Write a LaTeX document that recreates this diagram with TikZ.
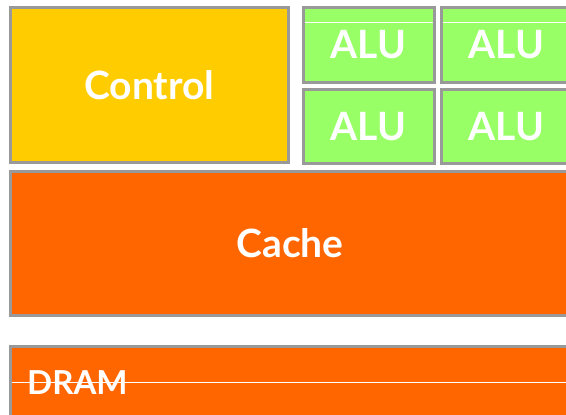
\documentclass[tikz,border=0pt]{standalone}
\usepackage{fontspec}
\newfontfamily\blockfont{Lato}
\usetikzlibrary{positioning}

\definecolor{ctrlyellow}{HTML}{FFCC00}
\definecolor{alugreen}{HTML}{99FF66}
\definecolor{memorange}{HTML}{FF6600}
\definecolor{edgegray}{HTML}{999999}

\begin{document}
\begin{tikzpicture}[x=1pt,y=-1pt]
\tikzstyle{block}=[rectangle,draw=edgegray,line width=3pt,inner sep=0pt,text=white,font=\blockfont\bfseries\fontsize{39}{41}\selectfont]
\tikzstyle{alu}=[block,fill=alugreen,minimum width=131pt,minimum height=75pt]
\tikzstyle{gap}=[white,line width=1pt]
\useasboundingbox (0,0) rectangle (566,415);
\clip (0,0) rectangle (566,415);
\node[block,fill=ctrlyellow,minimum width=278.5pt,minimum height=154.5pt] (control) at (149.25,84.75) {Control};
\node[alu] (alu1) at (368.5,45) {ALU};
\node[alu] (alu2) at (506.5,45) {ALU};
\node[alu,minimum height=73.5pt] (alu3) at (368.5,126.25) {ALU};
\node[alu,minimum height=73.5pt] (alu4) at (506.5,126.25) {ALU};
\node[block,fill=memorange,minimum width=560pt,minimum height=144pt] (cache) at (290,243.5) {Cache};
\node[block,fill=memorange,minimum width=560pt,minimum height=83.5pt] (dram) at (290,388.25) {};
\node[text=white,inner sep=0pt,anchor=west,font=\blockfont\bfseries\fontsize{33}{35}\selectfont] (dramlabel) at (27,382.5) {DRAM};
%thin white lines
\draw[gap] (304.5,22) -- (432.5,22);
\draw[gap] (442.5,22) -- (566,22);
\draw[gap] (11.5,382) -- (566,382);
\end{tikzpicture}
\end{document}
